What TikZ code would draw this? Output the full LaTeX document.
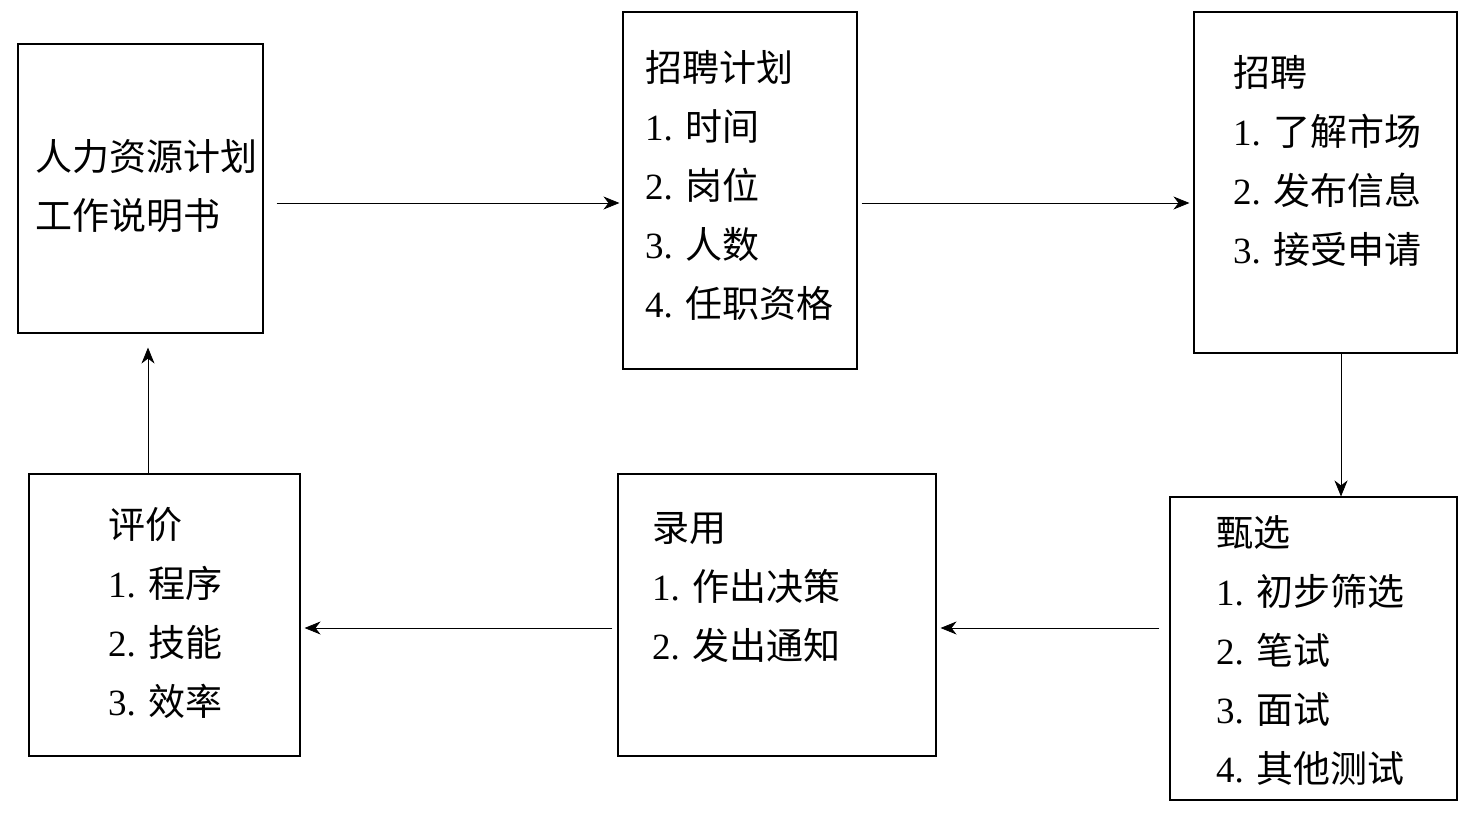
\documentclass[tikz,border=0pt]{standalone}
\usepackage{fontspec}
\setmainfont{Liberation Serif}
\newfontfamily\cjk{Noto Sans CJK SC}
\usetikzlibrary{positioning,calc,arrows.meta}

\tikzset{
  box/.style={draw, line width=1.1pt, inner sep=0pt},
  txt/.style={anchor=base west, inner sep=0pt, font=\fontsize{37pt}{59pt}\selectfont},
  arr/.style={-{Stealth[length=16pt,width=13pt,inset=5pt]}, line width=0.8pt}
}

\begin{document}
\begin{tikzpicture}[x=1pt,y=-1pt]
\useasboundingbox (0,0) rectangle (1474,822);
% boxes
\node[box, minimum width=245pt, minimum height=289pt] (plan) at (140.5,188.5) {};
\node[box, minimum width=234pt, minimum height=357pt] (zhp) at (740,190.5) {};
\node[box, minimum width=263pt, minimum height=341pt] (recr) at (1325.5,182.5) {};
\node[box, minimum width=287pt, minimum height=303pt] (sel) at (1313.5,648.5) {};
\node[box, minimum width=318pt, minimum height=282pt] (hire) at (777,615) {};
\node[box, minimum width=271pt, minimum height=282pt] (eval) at (164.5,615) {};

% texts
\foreach \ln [count=\k from 0] in {{\cjk 人力资源计划},{\cjk 工作说明书}}
  \node[txt] (plan-\k) at (35,{170+59*\k}) {\ln};
\foreach \ln [count=\k from 0] in {{\cjk 招聘计划},{1. \cjk 时间},{2. \cjk 岗位},{3. \cjk 人数},{4. \cjk 任职资格}}
  \node[txt] (zhp-\k) at (645,{81+59*\k}) {\ln};
\foreach \ln [count=\k from 0] in {{\cjk 招聘},{1. \cjk 了解市场},{2. \cjk 发布信息},{3. \cjk 接受申请}}
  \node[txt] (recr-\k) at (1233,{86+59*\k}) {\ln};
\foreach \ln [count=\k from 0] in {{\cjk 甄选},{1. \cjk 初步筛选},{2. \cjk 笔试},{3. \cjk 面试},{4. \cjk 其他测试}}
  \node[txt] (sel-\k) at (1216,{546+59*\k}) {\ln};
\foreach \ln [count=\k from 0] in {{\cjk 录用},{1. \cjk 作出决策},{2. \cjk 发出通知}}
  \node[txt] (hire-\k) at (652,{541+59*\k}) {\ln};
\foreach \ln [count=\k from 0] in {{\cjk 评价},{1. \cjk 程序},{2. \cjk 技能},{3. \cjk 效率}}
  \node[txt] (eval-\k) at (108,{538+59*\k}) {\ln};

% connectors
\draw[arr] ([xshift=13pt,yshift=-14.5pt]plan.east) -- ([xshift=-3pt,yshift=-14.5pt]plan.east -| zhp.west);
\draw[arr] ([xshift=4pt,yshift=-12.5pt]zhp.east) -- ([xshift=-4pt,yshift=-12.5pt]zhp.east -| recr.west);
\draw[arr] ([xshift=15.5pt]recr.south) -- ([xshift=15.5pt]recr.south |- sel.north);
\draw[arr] ([xshift=-10pt,yshift=20.5pt]sel.west) -- ([xshift=4pt,yshift=20.5pt]sel.west -| hire.east);
\draw[arr] ([xshift=-5pt,yshift=-13pt]hire.west) -- ([xshift=4pt,yshift=-13pt]hire.west -| eval.east);
\draw[arr] ([xshift=-16.5pt]eval.north) -- ([xshift=-16.5pt,yshift=-14pt]eval.north |- plan.south);
\end{tikzpicture}
\end{document}
